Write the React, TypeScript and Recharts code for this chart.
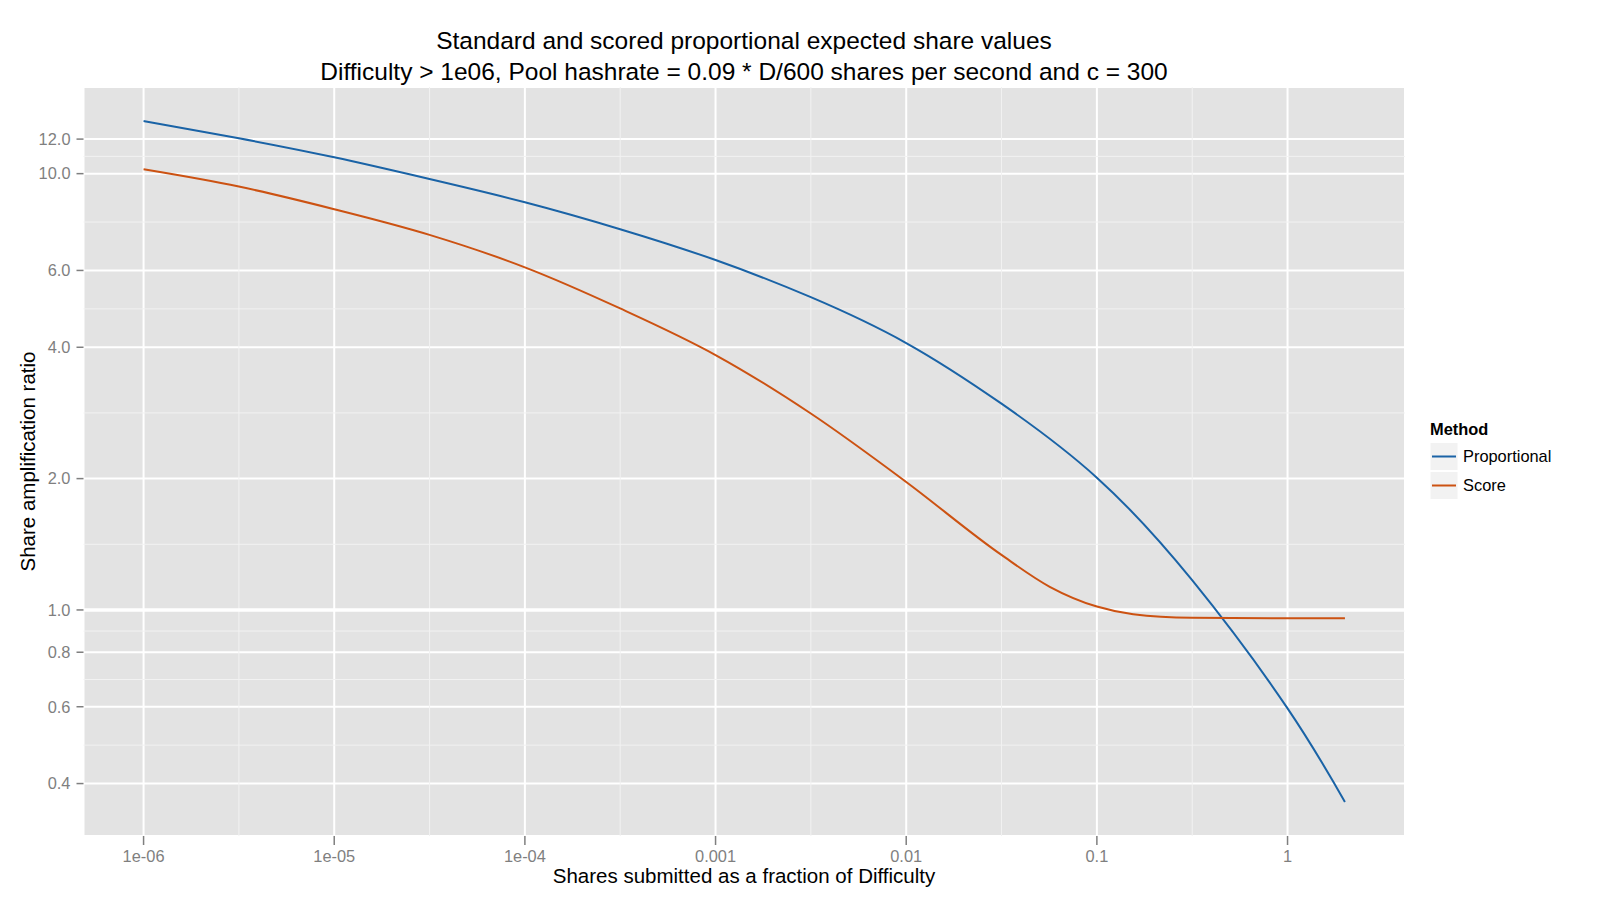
import React from 'react';
import { LineChart, Line, XAxis, YAxis, CartesianGrid, ReferenceLine } from 'recharts';

// shares submitted as a fraction of difficulty (x) and ratio (y)
const proportionalX = [
  1e-6, 3.16e-6, 1e-5, 3.16e-5, 1e-4, 3.16e-4, 1e-3, 3.16e-3, 0.01, 0.0316, 0.1, 0.316, 1, 2,
];
const proportionalY = [
  13.2, 12.05, 10.9, 9.72, 8.6, 7.46, 6.34, 5.21, 4.09, 2.97, 2.01, 1.17, 0.595, 0.363,
];
const scoreX = [
  1e-6, 3.16e-6, 1e-5, 3.16e-5, 1e-4, 3.16e-4, 1e-3, 3.16e-3, 0.01, 0.0316, 0.0566, 0.1, 0.155,
  0.316, 1, 2,
];
const scoreY = [
  10.23, 9.34, 8.29, 7.24, 6.1, 4.91, 3.84, 2.82, 1.965, 1.337, 1.13, 1.018, 0.978, 0.96, 0.957,
  0.957,
];

const xTicks = [1e-6, 1e-5, 1e-4, 1e-3, 0.01, 0.1, 1];
const xTickLabels = ['1e-06', '1e-05', '1e-04', '0.001', '0.01', '0.1', '1'];
const yTicks = [0.4, 0.6, 0.8, 1, 2, 4, 6, 10, 12];

const seriesNames = ['Proportional', 'Score'];
const seriesColors = ['#1A63A6', '#CC5212'];
const seriesCurves = ['natural', 'monotone'] as const;

const titleLines = [
  'Standard and scored proportional expected share values',
  'Difficulty > 1e06, Pool hashrate = 0.09 * D/600 shares per second and c = 300',
];

const toRows = (xs: number[], ys: number[]) => xs.map((x, i) => ({ x, y: ys[i] }));
const seriesData = [toRows(proportionalX, proportionalY), toRows(scoreX, scoreY)];

// ggplot style 5% expansion in log space
const logExpand = (vals: number[]) => {
  const lo = Math.log10(Math.min(...vals));
  const hi = Math.log10(Math.max(...vals));
  const pad = (hi - lo) * 0.05;
  return [Math.pow(10, lo - pad), Math.pow(10, hi + pad)];
};
const xDomain = logExpand([...proportionalX, ...scoreX]);
const yDomain = logExpand([...proportionalY, ...scoreY]);

const midpoints = (t: number[]) => t.slice(1).map((v, i) => Math.sqrt(v * t[i]));
const xMinor = midpoints(xTicks);
const yMinor = midpoints(yTicks);

const FONT = "'Liberation Sans', Arial, Helvetica, sans-serif";

const fmtX = (v: number) => {
  let best = 0;
  xTicks.forEach((t, i) => {
    if (Math.abs(Math.log10(t) - Math.log10(v)) < Math.abs(Math.log10(xTicks[best]) - Math.log10(v))) best = i;
  });
  return xTickLabels[best];
};

export default function App() {
  return (
    <div style={{ position: 'absolute', left: 0, top: 0, width: 1600, height: 900, background: '#fff' }}>
      <LineChart
        width={1600}
        height={900}
        margin={{ top: 87, right: 195, bottom: 0, left: 0 }}
        style={{ fontFamily: FONT }}
      >
        <CartesianGrid fill="#E3E3E3" stroke="#FFFFFF" strokeWidth={2} />
        {xMinor.map((v) => (
          <ReferenceLine key={`xm${v}`} x={v} stroke="#F2F2F2" strokeWidth={1} zIndex={-50} />
        ))}
        {yMinor.map((v) => (
          <ReferenceLine key={`ym${v}`} y={v} stroke="#F2F2F2" strokeWidth={1} zIndex={-50} />
        ))}
        <ReferenceLine y={1} stroke="#FFFFFF" strokeWidth={3.5} zIndex={-40} />
        <XAxis
          dataKey="x"
          type="number"
          scale="log"
          domain={xDomain}
          allowDataOverflow
          ticks={xTicks}
          tickFormatter={fmtX}
          height={64}
          axisLine={false}
          tickSize={9}
          tickMargin={5}
          tickLine={{ stroke: '#7F7F7F', strokeWidth: 1.5 }}
          tick={{ fill: '#7F7F7F', fontSize: 16.4, fontFamily: FONT }}
        />
        <YAxis
          type="number"
          scale="log"
          domain={yDomain}
          allowDataOverflow
          ticks={yTicks}
          tickFormatter={(v: number) => v.toFixed(1)}
          width={83.5}
          axisLine={false}
          tickSize={7}
          tickMargin={6}
          tickLine={{ stroke: '#7F7F7F', strokeWidth: 1.5 }}
          tick={{ fill: '#7F7F7F', fontSize: 16.4, fontFamily: FONT }}
        />
        {seriesNames.map((n, i) => (
          <Line
            key={n}
            data={seriesData[i]}
            dataKey="y"
            name={n}
            type={seriesCurves[i]}
            stroke={seriesColors[i]}
            strokeWidth={2}
            dot={false}
            activeDot={false}
            isAnimationActive={false}
          />
        ))}
      </LineChart>
      <svg
        width={1600}
        height={900}
        style={{ position: 'absolute', left: 0, top: 0, pointerEvents: 'none', fontFamily: FONT }}
      >
        {titleLines.map((t, i) => (
          <text key={t} x={744} y={49 + i * 30.6} textAnchor="middle" fontSize={24.5} fill="#000">
            {t}
          </text>
        ))}
        <text x={744} y={882.5} textAnchor="middle" fontSize={20.5} fill="#000">
          Shares submitted as a fraction of Difficulty
        </text>
        <text
          x={0}
          y={0}
          transform="translate(34.5 461.5) rotate(-90)"
          textAnchor="middle"
          fontSize={20.5}
          fill="#000"
        >
          Share amplification ratio
        </text>
        <text x={1430} y={435} fontSize={16.4} fontWeight="bold" fill="#000">
          Method
        </text>
        {seriesNames.map((n, i) => (
          <g key={n}>
            <rect x={1430} y={442.5 + i * 29} width={28} height={28} fill="#F2F2F2" stroke="#FFFFFF" strokeWidth={1} />
            <line
              x1={1432}
              x2={1456}
              y1={456.5 + i * 29}
              y2={456.5 + i * 29}
              stroke={seriesColors[i]}
              strokeWidth={2}
            />
            <text x={1463} y={462.3 + i * 29} fontSize={16.4} fill="#000">
              {n}
            </text>
          </g>
        ))}
      </svg>
    </div>
  );
}
